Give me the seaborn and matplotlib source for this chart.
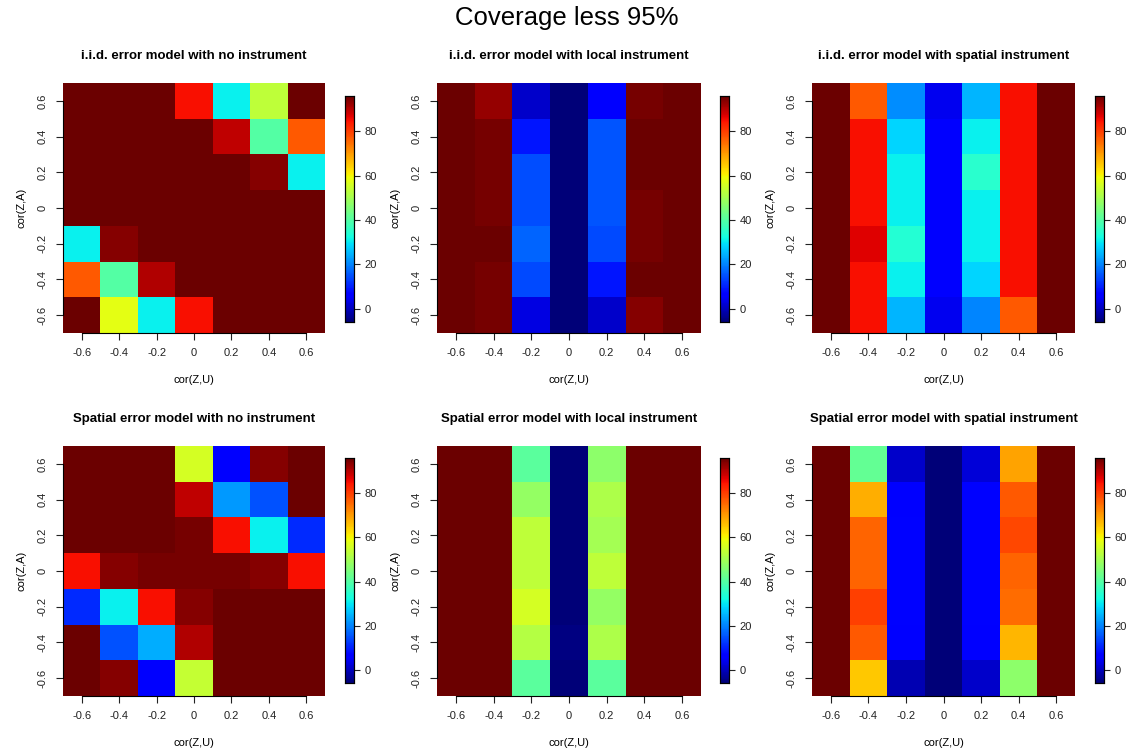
import numpy as np
import pandas as pd
import matplotlib
matplotlib.use("Agg")
import matplotlib.pyplot as plt
from matplotlib.colors import LinearSegmentedColormap
import seaborn as sns

# -----------------------------
# Data (coverage less than 95%), rows = cor(Z,A) from 0.6 (top) to -0.6
# -----------------------------
cor_zu = ["-0.6", "-0.4", "-0.2", "0", "0.2", "0.4", "0.6"]
cor_za = ["0.6", "0.4", "0.2", "0", "-0.2", "-0.4", "-0.6"]

iid_none = [
    [96, 96, 96, 85, 31, 53, 96],
    [96, 96, 96, 96, 89.6, 40, 77],
    [96, 96, 96, 96, 96, 94, 31],
    [96, 96, 96, 96, 96, 96, 96],
    [31, 94, 96, 96, 96, 96, 96],
    [77, 40, 90.8, 96, 96, 96, 96],
    [96, 58, 31, 85, 96, 96, 96],
]
iid_local = [
    [96, 92.5, 1, -6, 6, 95, 96],
    [96, 95, 9, -6, 15.5, 96, 96],
    [96, 95, 14.6, -6, 15.5, 96, 96],
    [96, 95, 14.6, -6, 15.5, 95, 96],
    [96, 96, 17, -6, 14, 95, 96],
    [96, 95, 14, -6, 9, 96, 96],
    [96, 95, 3, -6, 1, 94, 96],
]
iid_spatial = [
    [96, 77, 21, 4, 25, 85, 96],
    [96, 85, 28, 6, 31, 85, 96],
    [96, 85, 31, 6, 35, 85, 96],
    [96, 85, 31, 6, 31, 85, 96],
    [96, 87, 34, 6, 31, 85, 96],
    [96, 85, 31, 6, 28, 85, 96],
    [96, 85, 25, 4, 20, 77, 96],
]
sp_none = [
    [96, 96, 96, 56, 6, 94, 96],
    [96, 96, 96, 89.6, 22, 15, 96],
    [96, 96, 96, 95, 85, 31, 11],
    [85, 94, 95, 95, 95, 94, 85],
    [11, 31, 85, 94, 96, 96, 96],
    [96, 15, 24, 90.8, 96, 96, 96],
    [96, 94, 6, 54, 96, 96, 96],
]
sp_local = [
    [96, 96, 41, -6, 47, 96, 96],
    [96, 96, 48, -6, 51, 96, 96],
    [96, 96, 53, -6, 50, 96, 96],
    [96, 96, 53, -6, 53, 96, 96],
    [96, 96, 56, -6, 48, 96, 96],
    [96, 96, 52, -5, 51, 96, 96],
    [96, 96, 41, -6, 41, 96, 96],
]
sp_spatial = [
    [96, 42, 1, -6, 2, 69, 96],
    [96, 68, 6, -6, 7, 77, 96],
    [96, 76, 7, -6, 7, 79, 96],
    [96, 76, 7, -6, 7, 76, 96],
    [96, 80, 7, -6, 7, 75, 96],
    [96, 77, 6, -6, 6, 67, 96],
    [96, 65, -1, -6, 1, 47, 96],
]

titles = [
    "i.i.d. error model with no instrument",
    "i.i.d. error model with local instrument",
    "i.i.d. error model with spatial instrument",
    "Spatial error model with no instrument",
    "Spatial error model with local instrument",
    "Spatial error model with spatial instrument",
]
panels = [iid_none, iid_local, iid_spatial, sp_none, sp_local, sp_spatial]

# jet-like palette (tim.colors style), ending in a darker maroon
tim = LinearSegmentedColormap("tim", {
    "red": [(0, 0, 0), (0.35, 0, 0), (0.66, 1, 1), (0.89, 1, 1), (1, 0.42, 0.42)],
    "green": [(0, 0, 0), (0.125, 0, 0), (0.375, 1, 1), (0.64, 1, 1), (0.91, 0, 0), (1, 0, 0)],
    "blue": [(0, 0.47, 0.47), (0.11, 1, 1), (0.34, 1, 1), (0.65, 0, 0), (1, 0, 0)],
})

# -----------------------------
# Layout (pixel boxes)
# -----------------------------
W, H = 1133, 753
plt.rcParams["font.family"] = ["Liberation Sans", "DejaVu Sans"]


def rect(x0, y0, x1, y1):
    return [x0 / W, 1 - y1 / H, (x1 - x0) / W, (y1 - y0) / H]


ax_x = [(63, 325), (437, 701), (812, 1075)]
cb_x = [(345, 354), (720, 729), (1095, 1104)]
ax_y = [(83, 333), (446, 696)]
cb_y = [(96, 322), (458, 683)]

fig = plt.figure(figsize=(W / 100, H / 100), dpi=100)
fig.text(0.5, 1 - 18 / H, "Coverage less 95%", ha="center", va="center", fontsize=18.5)

for i, (vals, title) in enumerate(zip(panels, titles)):
    r, c = divmod(i, 3)
    ax = fig.add_axes(rect(ax_x[c][0], ax_y[r][0], ax_x[c][1], ax_y[r][1]))
    cax = fig.add_axes(rect(cb_x[c][0], cb_y[r][0], cb_x[c][1], cb_y[r][1]))
    df = pd.DataFrame(vals, index=cor_za, columns=cor_zu)
    sns.heatmap(df, ax=ax, cmap=tim, vmin=-6, vmax=96, cbar_ax=cax,
                cbar_kws={"ticks": [0, 20, 40, 60, 80]})

    ax.set_title(title, fontsize=9.5, fontweight="bold", pad=17)
    ax.set_xlabel("cor(Z,U)", fontsize=8, labelpad=12)
    ax.set_ylabel("cor(Z,A)", fontsize=8, labelpad=8)
    ax.tick_params(axis="both", labelsize=8, length=5, width=0.8, pad=6, colors="#222222")
    ax.set_yticklabels(cor_za, rotation=90, va="center")
    ax.set_xticklabels(cor_zu, rotation=0)
    for s in ["top", "right"]:
        ax.spines[s].set_visible(False)
    for s in ["left", "bottom"]:
        ax.spines[s].set_visible(True)
        ax.spines[s].set_color("black")
        ax.spines[s].set_linewidth(0.8)
        ax.spines[s].set_bounds(0.5, 6.5)

    cax.tick_params(labelsize=8, length=4, width=0.8, colors="#222222")
    for s in cax.spines.values():
        s.set_visible(True)
        s.set_color("black")
        s.set_linewidth(0.8)

fig.savefig("out.png", dpi=100)
